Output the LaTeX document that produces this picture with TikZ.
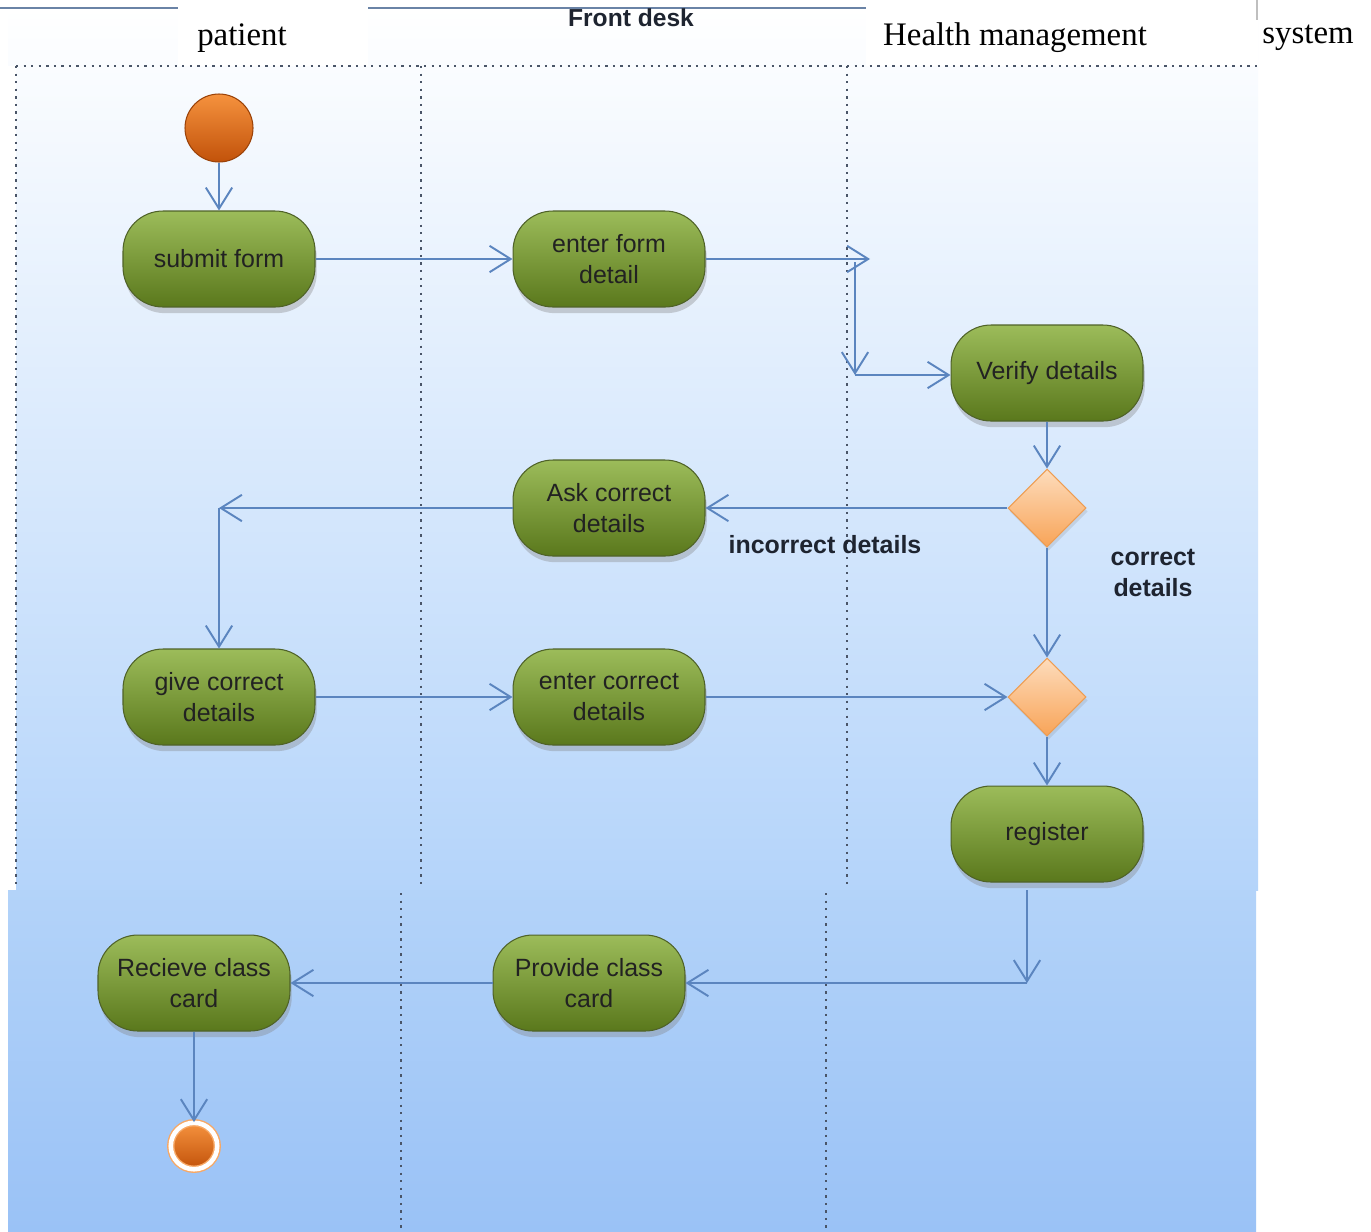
\documentclass[tikz,border=0pt]{standalone}
\usepackage{fontspec}
\setmainfont{Liberation Sans}
\newfontfamily\serf{Liberation Serif}
\usetikzlibrary{arrows.meta,shapes.geometric,shadows}
\definecolor{edgec}{HTML}{5B85BF}
\definecolor{pilltop}{HTML}{9CBC5A}
\definecolor{pillbot}{HTML}{5A781C}
\definecolor{pillline}{HTML}{4F6228}
\definecolor{orgtop}{HTML}{F5923E}
\definecolor{orgbot}{HTML}{C2520A}
\definecolor{diatop}{HTML}{FDDCBC}
\definecolor{diabot}{HTML}{F8A458}
\definecolor{dotc}{HTML}{4A5568}
\definecolor{panelbot}{HTML}{B4D4FA}
\definecolor{panelmid}{HTML}{DCEAFB}
\definecolor{lowtop}{HTML}{B3D3F9}
\definecolor{lowbot}{HTML}{9AC2F6}
\definecolor{txt}{HTML}{222222}
\definecolor{lblc}{HTML}{1E2430}
\begin{document}
\begin{tikzpicture}[x=0.02cm,y=-0.02cm,
  >={Straight Barb[length=12pt,width=15pt,line width=1.1pt]},
  pill/.style={rectangle, rounded corners=0.8cm, minimum width=3.84cm, minimum height=1.92cm,
    top color=pilltop, bottom color=pillbot, draw=pillline, line width=0.6pt,
    align=center, text=txt, font=\fontsize{14.2pt}{17.6pt}\selectfont,
    drop shadow={shadow xshift=1pt, shadow yshift=-3.5pt, opacity=0.35}},
  decision/.style={diamond, aspect=1, minimum width=1.56cm, minimum height=1.56cm, inner sep=0pt,
    top color=diatop, bottom color=diabot, draw=diabot!80!brown, line width=0.6pt,
    drop shadow={shadow xshift=1pt, shadow yshift=-2pt, opacity=0.2}},
  flow/.style={->, draw=edgec, line width=1.1pt},
  lane/.style={draw=dotc, line width=0.9pt, dash pattern=on 1.3pt off 3pt},
  title/.style={font=\serf\fontsize{18.7pt}{22pt}\selectfont, text=black},
  lbl/.style={font=\bfseries\fontsize{14.2pt}{17.6pt}\selectfont, text=lblc, align=center}
]
\useasboundingbox (0,0) rectangle (1371,1231);
\fill[white] (0,0) rectangle (1371,1231);
% upper panel
\shade[top color=white, middle color=panelmid, bottom color=panelbot] (8,8) rectangle (1258,890);
\fill[white] (0,66) rectangle (16,890);
\draw[draw=edgec!60!gray, line width=1.2pt] (0,8) -- (866,8);
% title boxes
\fill[white] (178,6) rectangle (368,66);
\fill[white] (866,6) rectangle (1258,66);
\draw[gray!50, line width=0.6pt] (1257,0) -- (1257,20);
\node[title] (tpat) at (242,38) {patient};
\node[font=\bfseries\fontsize{14pt}{16pt}\selectfont, text=lblc] (tfront) at (631,18) {Front desk};
\node[title] (thealth) at (1015,38) {Health management};
\node[title] (tsys) at (1308,38) {system};
% lanes (upper)
\draw[lane] (16,66) -- (1258,66);
\draw[lane] (16,66) -- (16,888);
\draw[lane] (421,66) -- (421,888);
\draw[lane] (847,66) -- (847,888);
% upper nodes
\node[circle, minimum size=1.36cm, inner sep=0pt, top color=orgtop, bottom color=orgbot, draw=orgbot!80!black, line width=0.6pt] (start) at (219,128) {};
\node[pill] (submit) at (219,259) {submit form};
\node[pill] (enterform) at (609,259) {enter form\\detail};
\node[pill] (verify) at (1047,373) {Verify details};
\node[decision] (d1) at (1047,508) {};
\node[pill] (ask) at (609,508) {Ask correct\\details};
\node[pill] (give) at (219,697) {give correct\\details};
\node[pill] (entercorr) at (609,697) {enter correct\\details};
\node[decision] (d2) at (1047,697) {};
\node[pill] (register) at (1047,834) {register};
\coordinate (j1) at (870,259);
\coordinate (j1b) at (855,262);
\coordinate (j2) at (855,375);
\coordinate (j4) at (219,508);
% upper connectors
\draw[flow] (start) -- (submit);
\draw[flow] (submit) -- (enterform);
\draw[flow] (enterform) -- (j1);
\draw[flow] (j1b) -- (j2);
\draw[flow] (j2) -- (j2 -| verify.west);
\draw[flow] (verify) -- (d1);
\draw[flow] (d1) -- (ask);
\draw[flow] (ask) -- (j4);
\draw[flow] (j4) -- (give);
\draw[flow] (d1) -- (d2);
\draw[flow] (give) -- (entercorr);
\draw[flow] (entercorr) -- (d2);
\draw[flow] (d2) -- (register);
\node[lbl] (linc) at (825,545) {incorrect details};
\node[lbl] (lcor) at (1153,573) {correct\\details};
% lower panel
\shade[top color=lowtop, bottom color=lowbot] (8,890) rectangle (1256,1231);
\draw[lane] (401,893) -- (401,1231);
\draw[lane] (826,893) -- (826,1231);
\node[pill] (provide) at (589,983) {Provide class\\card};
\node[pill] (receive) at (194,983) {Recieve class\\card};
\node[circle, minimum size=0.93cm, inner sep=0pt, top color=orgtop, bottom color=orgbot, draw=orgtop!80!white, double=white, double distance=2.6pt, line width=0.8pt] (end) at (194,1146) {};
\coordinate (r0) at (1027,890);
\coordinate (j3) at (1027,983);
\draw[flow] (r0) -- (j3);
\draw[flow] (j3) -- (j3 -| provide.east);
\draw[flow] (provide) -- (receive);
\draw[flow] (receive) -- (end);
\end{tikzpicture}
\end{document}
